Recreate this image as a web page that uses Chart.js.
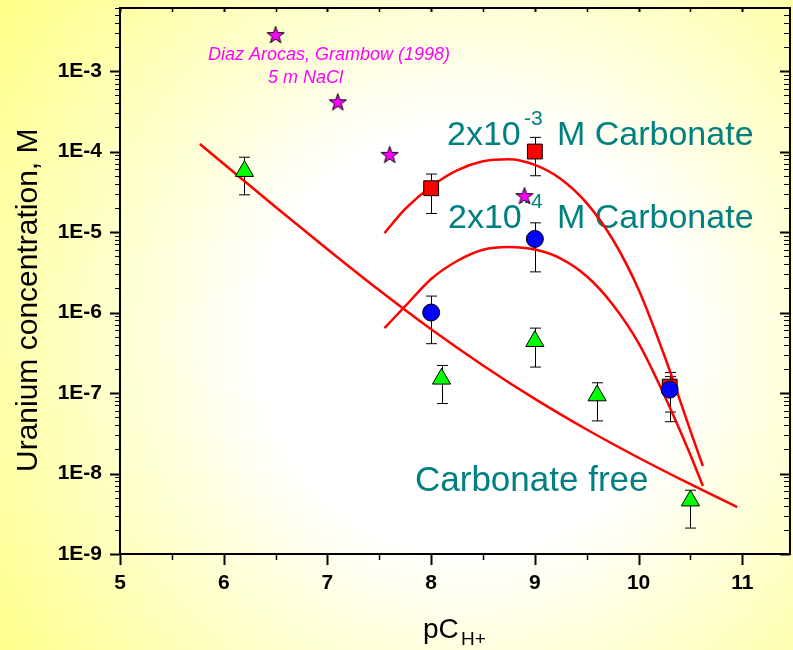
<!DOCTYPE html>
<html>
<head>
<meta charset="utf-8">
<script src="https://cdn.jsdelivr.net/npm/chart.js@4.4.0/dist/chart.umd.min.js"></script>
<style>
  html, body { margin: 0; padding: 0; }
</style>
</head>
<body>
<canvas id="uc-chart" width="793" height="650"></canvas>

<script>
  // pC(H+) on x, uranium concentration (M) on y
  const xTickLabels = ['5', '6', '7', '8', '9', '10', '11'];
  const yTickLabels = ['1E-9', '1E-8', '1E-7', '1E-6', '1E-5', '1E-4', '1E-3'];

  // Diaz Arocas, Grambow (1998), 5 m NaCl
  const starX = [6.5, 7.1, 7.6, 8.9];
  const starY = [2.8e-3, 4.1e-4, 9.1e-5, 2.8e-5];

  // 2x10^-3 M carbonate
  const squareX = [8.0, 9.0, 10.3];
  const squareY = [3.5e-5, 1.0e-4, 1.2e-7];
  const squareHi = [5.25e-5, 1.5e-4, 1.8e-7];
  const squareLo = [1.7e-5, 5.0e-5, 4.4e-8];

  // 2x10^-4 M carbonate
  const circleX = [8.0, 9.0, 10.3];
  const circleY = [1.0e-6, 8.2e-6, 1.1e-7];
  const circleHi = [1.6e-6, 1.3e-5, 1.6e-7];
  const circleLo = [4.1e-7, 3.2e-6, 5.8e-8];

  // carbonate free
  const triX = [6.2, 8.1, 9.0, 9.6, 10.5];
  const triY = [5.7e-5, 1.5e-7, 4.4e-7, 9.3e-8, 4.6e-9];
  const triHi = [8.5e-5, 2.2e-7, 6.4e-7, 1.34e-7, 6.2e-9];
  const triLo = [2.9e-5, 7.4e-8, 2.1e-7, 4.5e-8, 2.1e-9];

  // model curves
  const freeX = [5.77, 6.5, 7.0, 7.5, 8.0, 8.5, 9.0, 9.5, 10.0, 10.5, 10.95];
  const freeY = [1.24e-4, 2.05e-5, 6.12e-6, 1.89e-6, 6.19e-7, 2.2e-7, 8.45e-8, 3.52e-8, 1.57e-8, 7.36e-9, 3.83e-9];

  const c3X = [7.55, 7.75, 8.0, 8.25, 8.5, 8.75, 9.0, 9.25, 9.5, 9.75, 10.0, 10.25, 10.5, 10.62];
  const c3Y = [9.7e-6, 1.94e-5, 3.69e-5, 5.85e-5, 7.59e-5, 8.04e-5, 6.84e-5, 4.57e-5, 2.29e-5, 8.13e-6, 1.93e-6, 2.88e-7, 3.39e-8, 1.24e-8];

  const c4X = [7.55, 7.75, 8.0, 8.25, 8.5, 8.75, 9.0, 9.25, 9.5, 9.75, 10.0, 10.25, 10.5, 10.62];
  const c4Y = [6.41e-7, 1.2e-6, 2.61e-6, 4.37e-6, 6.03e-6, 6.52e-6, 6.05e-6, 4.68e-6, 2.82e-6, 1.26e-6, 4.17e-7, 9.27e-8, 1.7e-8, 7.0e-9];

  const FONT = '"Liberation Sans", Arial, sans-serif';
  const TEAL = '#008080';

  function pts(xs, ys) {
    return xs.map((x, i) => ({ x: x, y: ys[i] }));
  }

  function isDecade(v) {
    const e = Math.log10(v);
    return Math.abs(e - Math.round(e)) < 1e-6;
  }

  function makeStar() {
    const c = document.createElement('canvas');
    c.width = 22; c.height = 22;
    const g = c.getContext('2d');
    const R = 9, r = 3.6;
    g.beginPath();
    for (let k = 0; k < 10; k++) {
      const a = -Math.PI / 2 + k * Math.PI / 5;
      const rad = k % 2 === 0 ? R : r;
      const px = 11 + rad * Math.cos(a), py = 11.5 + rad * Math.sin(a);
      if (k === 0) g.moveTo(px, py); else g.lineTo(px, py);
    }
    g.closePath();
    g.fillStyle = '#FF00FF';
    g.fill();
    g.strokeStyle = '#000';
    g.lineWidth = 1;
    g.stroke();
    return c;
  }

  const backgroundPlugin = {
    id: 'bg',
    beforeDraw(chart) {
      const ctx = chart.ctx;
      const grad = ctx.createRadialGradient(470, 340, 0, 470, 340, 600);
      grad.addColorStop(0, '#FFFFFF');
      grad.addColorStop(0.35, '#FFFFFF');
      grad.addColorStop(1, '#FFFF80');
      ctx.save();
      ctx.fillStyle = grad;
      ctx.fillRect(0, 0, chart.width, chart.height);
      ctx.restore();
    }
  };

  const errorBarPlugin = {
    id: 'errbars',
    beforeDatasetsDraw(chart) {
      const ctx = chart.ctx;
      const xs = chart.scales.x, ys = chart.scales.y;
      ctx.save();
      ctx.strokeStyle = '#000';
      ctx.lineWidth = 1;
      chart.data.datasets.forEach(ds => {
        if (!ds.errHi) return;
        ds.data.forEach((p, i) => {
          const px = Math.round(xs.getPixelForValue(p.x)) + 0.5;
          const top = ys.getPixelForValue(ds.errHi[i]);
          const bot = ys.getPixelForValue(ds.errLo[i]);
          ctx.beginPath();
          ctx.moveTo(px, top); ctx.lineTo(px, bot);
          ctx.moveTo(px - 5.5, top); ctx.lineTo(px + 5.5, top);
          ctx.moveTo(px - 5.5, bot); ctx.lineTo(px + 5.5, bot);
          ctx.stroke();
        });
      });
      ctx.restore();
    }
  };

  const textPlugin = {
    id: 'notes',
    beforeDatasetsDraw(chart) {
      const ctx = chart.ctx;
      ctx.save();
      ctx.textAlign = 'left';
      ctx.textBaseline = 'alphabetic';

      ctx.fillStyle = '#FF00FF';
      ctx.font = 'italic 18px ' + FONT;
      ctx.fillText('Diaz Arocas, Grambow (1998)', 208, 60);
      ctx.fillText('5 m NaCl', 268, 83);

      ctx.fillStyle = TEAL;
      ctx.font = '34px ' + FONT;
      ctx.fillText('2x10', 447, 145);
      ctx.fillText('M Carbonate', 557, 145);
      ctx.fillText('2x10', 448, 228);
      ctx.fillText('M Carbonate', 557, 228);
      ctx.font = '21px ' + FONT;
      ctx.fillText('-3', 524, 125);
      ctx.fillText('-4', 524, 208);
      ctx.font = '35px ' + FONT;
      ctx.fillText('Carbonate free', 415, 491);
      ctx.restore();
    }
  };

  const framePlugin = {
    id: 'frame',
    afterDraw(chart) {
      const ctx = chart.ctx;
      const a = chart.chartArea;
      const xs = chart.scales.x, ys = chart.scales.y;
      ctx.save();
      ctx.strokeStyle = '#000';

      // left & right ticks on the log axis
      ys.ticks.forEach(t => {
        const py = Math.round(ys.getPixelForValue(t.value)) + 0.5;
        const major = isDecade(t.value);
        ctx.lineWidth = major ? 2 : 1.2;
        ctx.beginPath();
        ctx.moveTo(a.left, py); ctx.lineTo(a.left - (major ? 10 : 5), py);
        ctx.moveTo(a.right, py); ctx.lineTo(a.right - (major ? 10 : 6), py);
        ctx.stroke();
      });

      // bottom (outward) and top (inward) ticks
      xs.ticks.forEach(t => {
        const px = Math.round(xs.getPixelForValue(t.value)) + 0.5;
        const major = Number.isInteger(t.value);
        ctx.lineWidth = major ? 2 : 1.5;
        ctx.beginPath();
        ctx.moveTo(px, a.bottom); ctx.lineTo(px, a.bottom + (major ? 11 : 6));
        ctx.moveTo(px, a.top); ctx.lineTo(px, a.top + 4);
        ctx.stroke();
      });

      // top and right border
      ctx.lineWidth = 2;
      ctx.beginPath();
      ctx.moveTo(a.left, a.top); ctx.lineTo(a.right, a.top); ctx.lineTo(a.right, a.bottom);
      ctx.stroke();

      // axis titles
      ctx.fillStyle = '#000';
      ctx.textAlign = 'left';
      ctx.textBaseline = 'alphabetic';
      ctx.font = '28px ' + FONT;
      ctx.fillText('pC', 423, 638);
      ctx.font = '19px ' + FONT;
      ctx.fillText('H+', 461, 645);

      ctx.translate(37, 472);
      ctx.rotate(-Math.PI / 2);
      ctx.font = '30px ' + FONT;
      ctx.fillText('Uranium concentration, M', 0, 0);
      ctx.restore();
    }
  };

  function curve(label, xs, ys) {
    return {
      label: label,
      data: pts(xs, ys),
      showLine: true,
      pointRadius: 0,
      borderColor: '#FF0000',
      borderWidth: 2.5,
      cubicInterpolationMode: 'monotone',
      order: 10
    };
  }

  function initUraniumChart() {
    const ctx = document.getElementById('uc-chart').getContext('2d');
    const star = makeStar();

    new Chart(ctx, {
      type: 'scatter',
      data: {
        datasets: [
          {
            label: 'Diaz Arocas, Grambow (1998)',
            data: pts(starX, starY),
            pointStyle: star,
            order: 0
          },
          {
            label: 'Carbonate free',
            data: pts(triX, triY),
            errHi: triHi, errLo: triLo,
            pointStyle: 'triangle',
            pointRadius: 10.5,
            backgroundColor: '#00FF00',
            borderColor: '#000',
            borderWidth: 1,
            order: 1
          },
          {
            label: '2x10-4 M Carbonate',
            data: pts(circleX, circleY),
            errHi: circleHi, errLo: circleLo,
            pointStyle: 'circle',
            pointRadius: 8.5,
            backgroundColor: '#0000FF',
            borderColor: '#000',
            borderWidth: 1,
            order: 2
          },
          {
            label: '2x10-3 M Carbonate',
            data: pts(squareX, squareY),
            errHi: squareHi, errLo: squareLo,
            pointStyle: 'rect',
            pointRadius: 10.5,
            backgroundColor: '#FF0000',
            borderColor: '#000',
            borderWidth: 1,
            order: 3
          },
          curve('model carbonate free', freeX, freeY),
          curve('model 2x10-3', c3X, c3Y),
          curve('model 2x10-4', c4X, c4Y)
        ]
      },
      options: {
        responsive: false,
        animation: false,
        layout: { autoPadding: false, padding: { top: 8, right: 3, left: 0, bottom: 0 } },
        plugins: {
          legend: { display: false },
          tooltip: { enabled: false }
        },
        scales: {
          x: {
            type: 'linear',
            position: 'bottom',
            min: 5,
            max: 11.46,
            afterFit: s => {
              s.height = 96;
              s.paddingLeft = 0; s.paddingRight = 0;
            },
            ticks: {
              stepSize: 0.5,
              includeBounds: false,
              autoSkip: false,
              maxRotation: 0,
              padding: 17,
              color: '#000',
              font: { family: FONT, size: 21, weight: 'bold' },
              callback: v => Number.isInteger(v) ? xTickLabels[v - 5] : ''
            },
            grid: {
              drawOnChartArea: false,
              drawTicks: false
            },
            border: { color: '#000', width: 2 }
          },
          y: {
            type: 'logarithmic',
            min: 1e-9,
            max: 6.07e-3,
            afterFit: s => {
              s.width = 120;
              s.paddingTop = 0; s.paddingBottom = 0;
            },
            afterBuildTicks: s => {
              const t = [];
              for (let e = -9; e <= -3; e++) {
                for (let m = 1; m <= 9; m++) {
                  const v = m * Math.pow(10, e);
                  if (v <= 6.07e-3) t.push({ value: v, major: m === 1 });
                }
              }
              s.ticks = t;
            },
            ticks: {
              autoSkip: false,
              padding: 18,
              color: '#000',
              font: { family: FONT, size: 21, weight: 'bold' },
              callback: v => isDecade(v) ? yTickLabels[Math.round(Math.log10(v)) + 9] : ''
            },
            grid: {
              drawOnChartArea: false,
              drawTicks: false
            },
            border: { color: '#000', width: 2 }
          }
        }
      },
      plugins: [backgroundPlugin, errorBarPlugin, textPlugin, framePlugin]
    });
  }

  requestAnimationFrame(initUraniumChart);
</script>
</body>
</html>
